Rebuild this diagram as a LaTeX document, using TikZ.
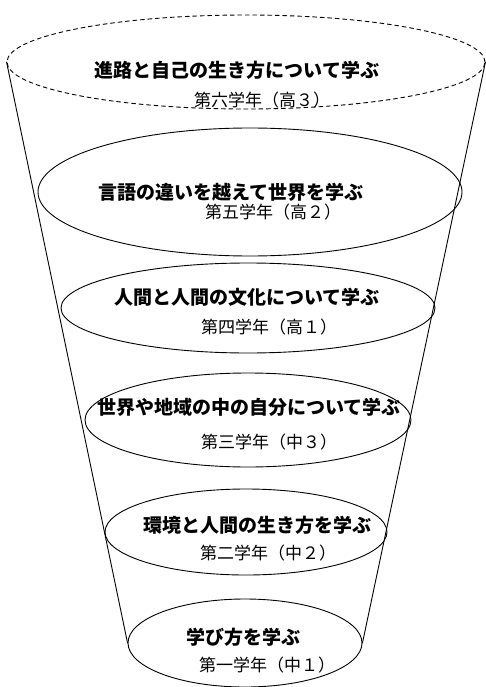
\documentclass[tikz,border=0pt]{standalone}
\usepackage{fontspec}
\newfontfamily\jpfont{Noto Sans CJK JP}
\usetikzlibrary{shapes.geometric}

\begin{document}
\begin{tikzpicture}[x=1pt, y=-1pt, line join=round, line cap=round, line width=0.9pt]
  \tikzset{
    tang/.style={ellipse, draw, inner sep=0pt},
    muc/.style={font=\jpfont\bfseries\fontsize{19}{20}\selectfont, inner sep=0pt},
    nam/.style={font=\jpfont\fontsize{17}{18}\selectfont, inner sep=0pt}
  }
  \useasboundingbox (0,0) rectangle (486,687);
  % cac tang cua pheu
  \node[tang, dashed, dash pattern=on 4pt off 3.5pt, minimum width=478, minimum height=94] (e6) at (246,62) {};
  \foreach \n/\cx/\cy/\w/\h in {5/250/192/424/128, 4/248/308/374/90, 3/248/420/326/94, 2/246/532/282/86, 1/245/643/234/88}
    \node[tang, minimum width=\w, minimum height=\h] (e\n) at (\cx,\cy) {};
  % hai canh cua pheu
  \draw (e6.west) -- (e1.west);
  \draw (e6.east) -- (e1.east);
  % chu
  \foreach \n/\tx/\ty/\chu in {6/237/70/進路と自己の生き方について学ぶ, 5/231/192/言語の違いを越えて世界を学ぶ, 4/247/297/人間と人間の文化について学ぶ, 3/249/407/世界や地域の中の自分について学ぶ, 2/257/525/環境と人間の生き方を学ぶ, 1/243/637/学び方を学ぶ}
    \node[muc] (t\n) at (\tx,\ty) {\chu};
  \foreach \n/\tx/\ty/\chu in {6/262/100/第六学年（高３）, 5/273/212/第五学年（高２）, 4/269/327/第四学年（高１）, 3/269/442/第三学年（中３）, 2/268/553/第二学年（中２）, 1/267/665/第一学年（中１）}
    \node[nam] (s\n) at (\tx,\ty) {\chu};
\end{tikzpicture}
\end{document}
